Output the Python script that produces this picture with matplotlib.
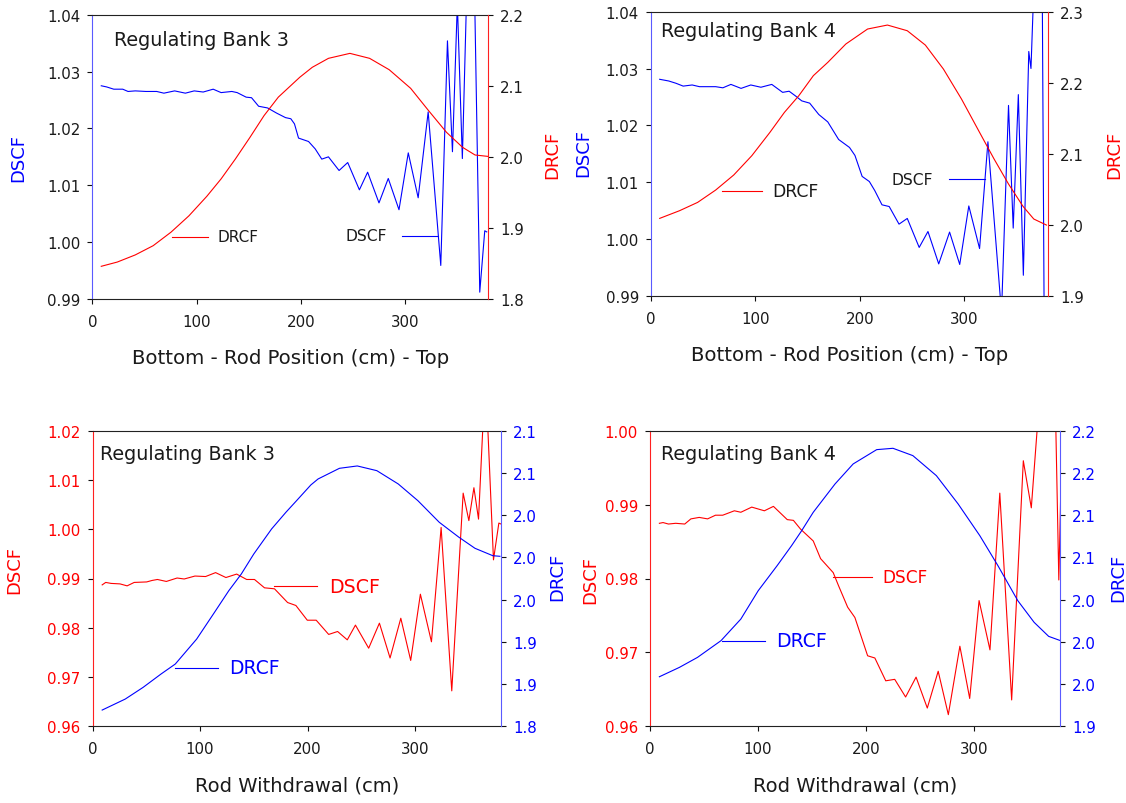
import matplotlib
matplotlib.use("Agg")
import matplotlib.pyplot as plt

plt.rcParams['font.family'] = ['DejaVu Sans']

# --- panel 1 : Regulating Bank 3, rod position ---
p1_dscf_x = [8.6, 13.7, 20.6, 29.2, 34.3, 41.2, 51.5, 61.8, 68.7, 79.0, 89.3, 97.8, 106.4, 116.0,
             123.6, 133.9, 139.0, 147.6, 152.8, 159.6, 168.2, 176.8, 185.4, 190.5, 194.0, 197.9,
             207.5, 213.9, 220.2, 226.6, 236.8, 245.1, 256.3, 264.2, 275.1, 284.0, 294.3, 303.2,
             312.7, 322.3, 334.4, 340.8, 345.6, 350.3, 355.1, 359.0, 363.1, 367.0, 371.8, 376.6, 378.5]
p1_dscf_y = [1.0275, 1.0273, 1.0269, 1.0269, 1.0265, 1.0266, 1.0265, 1.0265, 1.0262, 1.0266, 1.0262,
             1.0266, 1.0264, 1.0269, 1.0263, 1.0265, 1.0263, 1.0255, 1.0254, 1.0239, 1.0236, 1.0227,
             1.0219, 1.0217, 1.0208, 1.0183, 1.0177, 1.0164, 1.0146, 1.0150, 1.0126, 1.0140, 1.0092,
             1.0123, 1.0069, 1.0112, 1.0057, 1.0157, 1.0078, 1.0229, 0.9959, 1.0354, 1.0159, 1.0420,
             1.0147, 1.0420, 1.0650, 1.0420, 0.9912, 1.0020, 1.0018]
p1_drcf_x = [8.6, 24.0, 41.2, 58.4, 75.5, 92.7, 109.9, 123.6, 137.3, 151.1, 164.8, 178.5, 188.8,
             199.1, 211.1, 226.6, 247.2, 266.1, 284.9, 305.5, 322.7, 339.9, 355.3, 367.3, 379.3]
p1_drcf_y = [1.846, 1.852, 1.862, 1.875, 1.894, 1.917, 1.9445, 1.969, 1.997, 2.027, 2.058, 2.084,
             2.098, 2.112, 2.126, 2.1386, 2.1456, 2.1386, 2.1226, 2.0964, 2.065, 2.0345, 2.0134,
             2.0026, 2.0007]

# --- panel 2 : Regulating Bank 4, rod position ---
p2_dscf_x = [8.3, 17.0, 23.9, 30.8, 39.4, 46.4, 61.9, 68.8, 76.5, 86.2, 95.5, 105.2, 115.6, 126.0,
             132.2, 138.1, 144.3, 151.9, 160.6, 169.2, 179.6, 190.0, 195.2, 202.1, 209.0, 214.2,
             221.1, 228.0, 237.4, 245.3, 256.7, 265.1, 275.4, 285.8, 295.5, 304.2, 314.5, 322.5,
             335.5, 342.2, 346.7, 351.6, 356.4, 361.6, 363.7, 366.0, 370.0, 374.0, 376.5]
p2_dscf_y = [1.0281, 1.0278, 1.0274, 1.0269, 1.0271, 1.0268, 1.0268, 1.0266, 1.0272, 1.0265, 1.0271,
             1.0267, 1.0272, 1.0258, 1.0260, 1.0252, 1.0243, 1.0239, 1.0219, 1.0206, 1.0175, 1.0161,
             1.0147, 1.0110, 1.0101, 1.0085, 1.0060, 1.0057, 1.0026, 1.0036, 0.9985, 1.0013, 0.9956,
             1.0012, 0.9955, 1.0058, 0.9983, 1.0171, 0.9870, 1.0235, 1.0019, 1.0254, 0.9936, 1.0330,
             1.0300, 1.0420, 1.0650, 1.0600, 0.9800]
p2_drcf_x = [8.3, 27.3, 44.6, 61.9, 79.2, 96.5, 113.8, 127.7, 141.5, 155.4, 169.2, 186.5, 207.3,
             226.3, 245.3, 262.6, 279.9, 297.2, 314.5, 328.4, 342.2, 356.1, 366.4, 378.5]
p2_drcf_y = [2.0089, 2.0197, 2.0314, 2.0488, 2.070, 2.0972, 2.130, 2.1582, 2.1817, 2.2099, 2.2286,
             2.2545, 2.2756, 2.2812, 2.2732, 2.253, 2.2192, 2.177, 2.130, 2.0925, 2.0573, 2.0258,
             2.008, 1.9995]

# --- panel 3 : Regulating Bank 3, rod withdrawal ---
p3_dscf_x = [9.0, 12.3, 17.3, 25.6, 32.2, 38.8, 50.4, 55.4, 60.4, 68.7, 78.7, 85.3, 95.3, 105.2,
             114.5, 124.1, 134.1, 143.4, 150.7, 160.0, 169.3, 181.5, 189.2, 199.8, 208.1, 219.7,
             228.0, 237.0, 244.6, 256.9, 266.9, 276.8, 286.8, 296.0, 305.0, 315.3, 324.3, 334.2,
             344.8, 350.1, 354.8, 359.1, 365.5, 373.0, 378.0, 380.0]
p3_dscf_y = [0.9887, 0.9892, 0.9890, 0.9889, 0.9885, 0.9892, 0.9893, 0.9896, 0.9898, 0.9894, 0.9901,
             0.9899, 0.9905, 0.9904, 0.9912, 0.9902, 0.9909, 0.9898, 0.9898, 0.9881, 0.9879, 0.9851,
             0.9845, 0.9815, 0.9815, 0.9786, 0.9792, 0.9775, 0.9805, 0.9758, 0.9809, 0.9738, 0.9819,
             0.9733, 0.9868, 0.9771, 1.0004, 0.9671, 1.0074, 1.0018, 1.0085, 1.0021, 1.0320, 0.9938,
             1.0013, 1.0011]
p3_drcf_x = [9.0, 30.5, 47.1, 63.7, 77.0, 96.9, 113.5, 126.8, 138.4, 150.0, 166.6, 179.9, 189.8,
             203.1, 209.8, 229.7, 246.3, 264.5, 284.4, 302.7, 322.6, 340.9, 355.8, 372.4, 379.0]
p3_drcf_y = [1.8186, 1.8317, 1.8456, 1.8614, 1.8733, 1.903, 1.9348, 1.9605, 1.9803, 2.0041, 2.0339,
             2.0537, 2.0675, 2.0862, 2.0933, 2.106, 2.1088, 2.1032, 2.0874, 2.0675, 2.0418, 2.024,
             2.0109, 2.0021, 2.0014]

# --- panel 4 : Regulating Bank 4, rod withdrawal ---
p4_dscf_x = [8.7, 12.1, 17.1, 23.8, 32.2, 37.9, 45.6, 53.4, 60.7, 67.4, 78.2, 84.2, 94.3, 106.0,
             114.4, 127.2, 132.9, 139.6, 151.3, 158.1, 169.8, 174.8, 183.2, 189.9, 201.7, 208.4,
             218.5, 226.8, 236.9, 246.6, 257.0, 267.1, 276.5, 287.2, 296.3, 305.0, 315.1, 324.2,
             335.2, 346.0, 353.4, 358.7, 367.0, 376.2, 378.9, 380.5]
p4_dscf_y = [0.9875, 0.9876, 0.9874, 0.9875, 0.9874, 0.9881, 0.9883, 0.9881, 0.9886, 0.9886, 0.9892,
             0.9890, 0.9897, 0.9892, 0.9898, 0.9880, 0.9879, 0.9867, 0.9851, 0.9827, 0.9808, 0.9790,
             0.9761, 0.9747, 0.9695, 0.9692, 0.9661, 0.9663, 0.9639, 0.9666, 0.9624, 0.9674, 0.9615,
             0.9708, 0.9637, 0.9770, 0.9703, 0.9916, 0.9635, 0.9960, 0.9896, 1.0000, 1.0150, 1.0000,
             0.9798, 0.9904]
p4_drcf_x = [8.7, 27.2, 44.0, 65.8, 84.2, 100.3, 117.8, 131.2, 140.6, 151.3, 171.5, 188.3, 210.1,
             225.2, 243.6, 265.4, 285.6, 305.7, 322.5, 340.9, 356.0, 369.5, 380.5]
p4_drcf_y = [1.9582, 1.9693, 1.9812, 2.0011, 2.0268, 2.0605, 2.0902, 2.114, 2.1319, 2.1537, 2.1874,
             2.2112, 2.2282, 2.2298, 2.2211, 2.1973, 2.1636, 2.1259, 2.0902, 2.0486, 2.0229, 2.0062,
             2.0011]

x_ticks = [0, 100, 200, 300]
p1_left_ticks = [0.99, 1.00, 1.01, 1.02, 1.03, 1.04]
p1_right_ticks = [1.8, 1.9, 2.0, 2.1, 2.2]
p2_right_ticks = [1.9, 2.0, 2.1, 2.2, 2.3]
p3_left_ticks = [0.96, 0.97, 0.98, 0.99, 1.00, 1.01, 1.02]
p3_right_ticks = [1.8, 1.85, 1.9, 1.95, 2.0, 2.05, 2.1, 2.15]
p3_right_labels = ['1.8', '1.9', '1.9', '2.0', '2.0', '2.0', '2.1', '2.1']
p4_left_ticks = [0.96, 0.97, 0.98, 0.99, 1.00]
p4_right_ticks = [1.9, 1.95, 2.0, 2.05, 2.1, 2.15, 2.2, 2.25]
p4_right_labels = ['1.9', '2.0', '2.0', '2.0', '2.1', '2.1', '2.2', '2.2']

BLUE = '#0000ff'
RED = '#ff0000'
SPINE_BLUE = '#5a5aff'
SPINE_RED = '#ff2020'
TXT = '#1a1a1a'
LW = 0.8

W, H = 1126, 804
fig = plt.figure(figsize=(W / 100, H / 100), dpi=100)


def box(l, r, t, b):
    # axes rectangle from pixel edges
    return [l / W, 1 - b / H, (r - l) / W, (b - t) / H]


def setup(ax, ax2, lspine, rspine, ltick_col, rtick_col):
    ax.set_xlim(0, 380)
    ax.set_xticks(x_ticks)
    for a in (ax, ax2):
        a.tick_params(direction='out', length=3.3, width=0.8, labelsize=10.8, color='#111111')
    ax.tick_params(axis='x', top=False, labelcolor=TXT, pad=7.5)
    ax.tick_params(axis='y', right=False, labelcolor=ltick_col, pad=5.3)
    ax2.tick_params(axis='y', left=False, labelcolor=rtick_col, pad=5.3)
    ax.spines['right'].set_visible(False)
    ax.spines['left'].set_color(lspine)
    ax.spines['top'].set_color('#222222')
    ax.spines['bottom'].set_color('#222222')
    for s in ('left', 'top', 'bottom'):
        ax2.spines[s].set_visible(False)
    ax2.spines['right'].set_color(rspine)


def ylabels(ax, ax2, lcol, rcol, lx, ly, rx, ry):
    ax.set_ylabel('DSCF', fontsize=13, color=lcol, va='center', ha='center')
    ax.yaxis.set_label_coords(lx, ly)
    ax2.set_ylabel('DRCF', fontsize=13, color=rcol, va='center', ha='center')
    ax2.yaxis.set_label_coords(rx, ry)


# ---------- panel 1 ----------
ax = fig.add_axes(box(92.3, 488.3, 15.7, 300))
ax2 = ax.twinx()
ax.plot(p1_dscf_x, p1_dscf_y, color=BLUE, lw=LW)
ax2.plot(p1_drcf_x, p1_drcf_y, color=RED, lw=LW)
ax.set_ylim(0.99, 1.04)
ax2.set_ylim(1.8, 2.2)
ax.set_yticks(p1_left_ticks)
ax.set_yticklabels(['%.2f' % v for v in p1_left_ticks])
ax2.set_yticks(p1_right_ticks)
ax2.set_yticklabels(['%.1f' % v for v in p1_right_ticks])
setup(ax, ax2, SPINE_BLUE, SPINE_RED, TXT, TXT)
ax.set_xlabel('Bottom - Rod Position (cm) - Top', fontsize=14.2, color=TXT, labelpad=14)
ylabels(ax, ax2, BLUE, RED, -0.186, 0.5, 1.161, 0.51)
ax.text(0.0556, 0.9145, 'Regulating Bank 3', transform=ax.transAxes, fontsize=13.8,
        color=TXT, va='center', ha='left')
ax2.plot([76.4, 110.9], [1.8877, 1.8877], color=RED, lw=LW)
ax2.text(120, 1.8877, 'DRCF', fontsize=11, color=TXT, va='center', ha='left')
ax.plot([297.5, 332], [1.0011, 1.0011], color=BLUE, lw=LW)
ax.text(283, 1.0011, 'DSCF', fontsize=11.2, color=TXT, va='center', ha='right')

# ---------- panel 2 ----------
ax = fig.add_axes(box(651, 1048, 12.7, 296.7))
ax2 = ax.twinx()
ax.plot(p2_dscf_x, p2_dscf_y, color=BLUE, lw=LW)
ax2.plot(p2_drcf_x, p2_drcf_y, color=RED, lw=LW)
ax.set_ylim(0.99, 1.04)
ax2.set_ylim(1.9, 2.3)
ax.set_yticks(p1_left_ticks)
ax.set_yticklabels(['%.2f' % v for v in p1_left_ticks])
ax2.set_yticks(p2_right_ticks)
ax2.set_yticklabels(['%.1f' % v for v in p2_right_ticks])
setup(ax, ax2, SPINE_BLUE, SPINE_RED, TXT, TXT)
ax.set_xlabel('Bottom - Rod Position (cm) - Top', fontsize=14.2, color=TXT, labelpad=14)
ylabels(ax, ax2, BLUE, RED, -0.170, 0.506, 1.166, 0.5)
ax.text(0.026, 0.933, 'Regulating Bank 4', transform=ax.transAxes, fontsize=13.8,
        color=TXT, va='center', ha='left')
ax2.plot([67.8, 105.9], [2.047, 2.047], color=RED, lw=LW)
ax2.text(115.6, 2.047, 'DRCF', fontsize=12.4, color=TXT, va='center', ha='left')
ax.plot([285.1, 319.7], [1.0105, 1.0105], color=BLUE, lw=LW)
ax.text(270.2, 1.0105, 'DSCF', fontsize=11.2, color=TXT, va='center', ha='right')

# ---------- panel 3 ----------
ax = fig.add_axes(box(92.5, 501, 432.3, 726.7))
ax2 = ax.twinx()
ax.plot(p3_dscf_x, p3_dscf_y, color=RED, lw=LW)
ax2.plot(p3_drcf_x, p3_drcf_y, color=BLUE, lw=LW)
ax.set_ylim(0.96, 1.02)
ax2.set_ylim(1.8, 2.15)
ax.set_yticks(p3_left_ticks)
ax.set_yticklabels(['%.2f' % v for v in p3_left_ticks])
ax2.set_yticks(p3_right_ticks)
ax2.set_yticklabels(p3_right_labels)
setup(ax, ax2, SPINE_RED, SPINE_BLUE, RED, BLUE)
ax.set_xlabel('Rod Withdrawal (cm)', fontsize=14, color=TXT, labelpad=14)
ylabels(ax, ax2, RED, BLUE, -0.191, 0.532, 1.137, 0.51)
ax.text(0.019, 0.925, 'Regulating Bank 3', transform=ax.transAxes, fontsize=13.8,
        color=TXT, va='center', ha='left')
ax.plot([169.3, 209.1], [0.9884, 0.9884], color=RED, lw=LW)
ax.text(219.7, 0.9884, 'DSCF', fontsize=13.7, color=RED, va='center', ha='left')
ax2.plot([77.0, 116.8], [1.8686, 1.8686], color=BLUE, lw=LW)
ax2.text(127.4, 1.8686, 'DRCF', fontsize=13.5, color=BLUE, va='center', ha='left')

# ---------- panel 4 ----------
ax = fig.add_axes(box(650, 1060, 432.3, 726.7))
ax2 = ax.twinx()
ax.plot(p4_dscf_x, p4_dscf_y, color=RED, lw=LW)
ax2.plot(p4_drcf_x, p4_drcf_y, color=BLUE, lw=LW)
ax.set_ylim(0.96, 1.00)
ax2.set_ylim(1.9, 2.25)
ax.set_yticks(p4_left_ticks)
ax.set_yticklabels(['%.2f' % v for v in p4_left_ticks])
ax2.set_yticks(p4_right_ticks)
ax2.set_yticklabels(p4_right_labels)
setup(ax, ax2, SPINE_RED, SPINE_BLUE, RED, BLUE)
ax.set_xlabel('Rod Withdrawal (cm)', fontsize=14, color=TXT, labelpad=14)
ylabels(ax, ax2, RED, BLUE, -0.145, 0.498, 1.143, 0.505)
ax.text(0.0275, 0.925, 'Regulating Bank 4', transform=ax.transAxes, fontsize=13.8,
        color=TXT, va='center', ha='left')
ax.plot([169.8, 205.7], [0.9802, 0.9802], color=RED, lw=LW)
ax.text(215.8, 0.9802, 'DSCF', fontsize=12.2, color=RED, va='center', ha='left')
ax2.plot([66.4, 106.7], [2.001, 2.001], color=BLUE, lw=LW)
ax2.text(116.8, 2.001, 'DRCF', fontsize=13.6, color=BLUE, va='center', ha='left')

fig.savefig('out.png', dpi=100)
